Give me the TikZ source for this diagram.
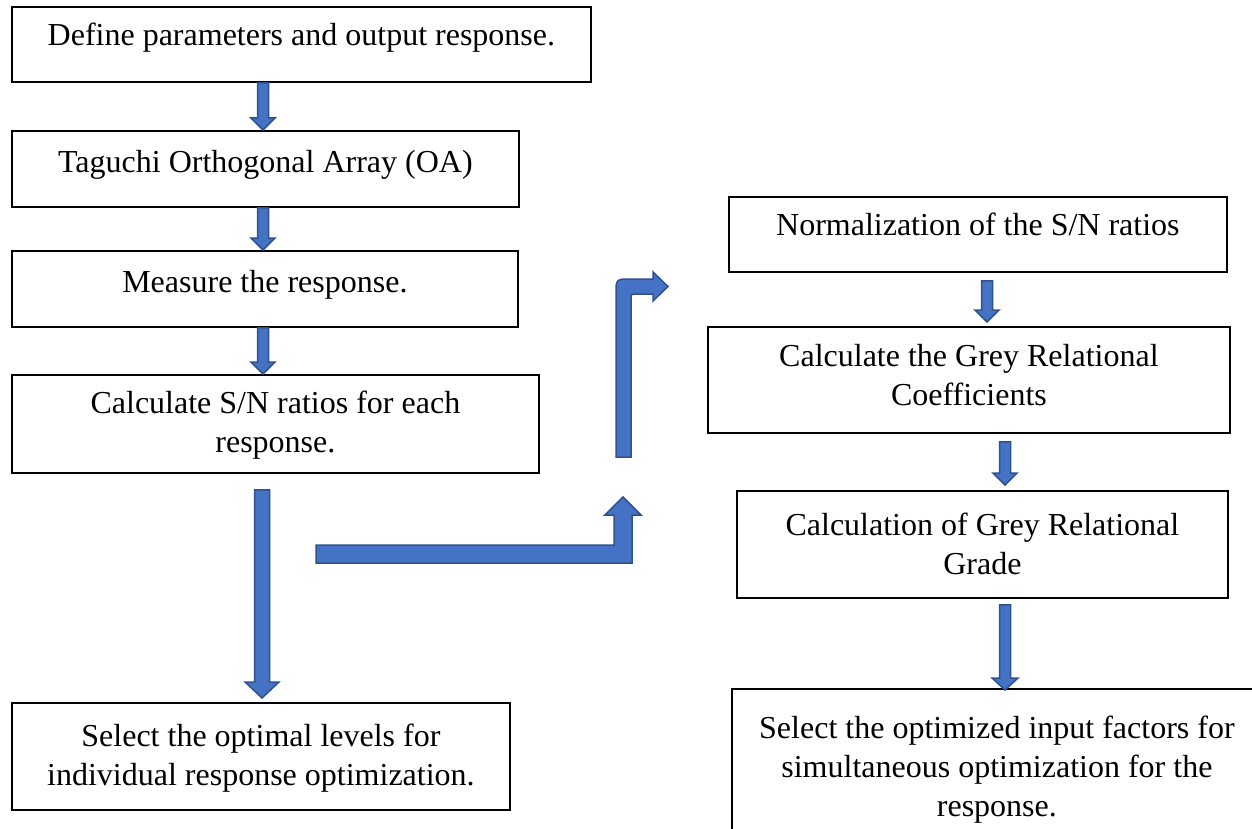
\documentclass[tikz,border=0pt]{standalone}
\usepackage{fontspec}
\setmainfont{Liberation Serif}
\usetikzlibrary{calc}
\definecolor{afill}{HTML}{4472C4}
\definecolor{aline}{HTML}{2F528F}
\newcommand\vblock[6]{%
\draw[barrow] let \p1=(#2), \p2=(#3) in
 ({(#1-#4)*1pt},\y1) -- ({(#1+#4)*1pt},\y1) -- ({(#1+#4)*1pt},\y2+#6pt) -- ({(#1+#5)*1pt},\y2+#6pt) -- ({#1*1pt},\y2) -- ({(#1-#5)*1pt},\y2+#6pt) -- ({(#1-#4)*1pt},\y2+#6pt) -- cycle;}
\begin{document}
\begin{tikzpicture}[x=1pt,y=-1pt,
 box/.style={draw=black,line width=1.8pt,anchor=north west,inner sep=0pt},
 txt/.style={anchor=north,inner sep=0pt,align=center,font=\fontsize{32}{39}\selectfont},
 barrow/.style={fill=afill,draw=aline,line width=1.5pt,line join=miter}]
\useasboundingbox (0,0) rectangle (1252,829);
\clip (0,0) rectangle (1252,829);
% left column
\node[box,minimum width=579pt,minimum height=75pt] (b1) at (11,6) {};
\node[txt] (t1) at ($(b1.north)+(0,12)$) {\strut Define parameters and output response.};
\node[box,minimum width=507pt,minimum height=76pt] (b2) at (11,130) {};
\node[txt] (t2) at ($(b2.north)+(0,15)$) {\strut Taguchi Orthogonal Array (OA)};
\node[box,minimum width=506pt,minimum height=76pt] (b3) at (11,250) {};
\node[txt] (t3) at ($(b3.north)+(0,15)$) {\strut Measure the response.};
\node[box,minimum width=527pt,minimum height=98pt] (b4) at (11,374) {};
\node[txt] (t4) at ($(b4.north)+(0,12)$) {\strut Calculate S/N ratios for each\\response.};
\node[box,minimum width=498pt,minimum height=107pt] (b5) at (11,702) {};
\node[txt] (t5) at ($(b5.north)+(0,17)$) {\strut Select the optimal levels for\\individual response optimization.};
% right column
\node[box,minimum width=498pt,minimum height=75pt] (b6) at (728,196) {};
\node[txt] (t6) at ($(b6.north)+(0,12)$) {\strut Normalization of the S/N ratios};
\node[box,minimum width=522pt,minimum height=106pt] (b7) at (707,326) {};
\node[txt] (t7) at ($(b7.north)+(0,13)$) {\strut Calculate the Grey Relational\\Coefficients};
\node[box,minimum width=491pt,minimum height=107pt] (b8) at (736,490) {};
\node[txt] (t8) at ($(b8.north)+(0,17.7)$) {\strut Calculation of Grey Relational\\Grade};
\node[box,minimum width=530pt,minimum height=160pt] (b9) at (731,688) {};
\node[txt] (t9) at ($(b9.north)+(0,22.7)$) {\strut Select the optimized input factors for\\simultaneous optimization for the\\response.};
% straight block arrows
\vblock{263}{b1.south}{b2.north}{5.5}{12}{12}
\vblock{263}{b2.south}{b3.north}{5.5}{12}{12}
\vblock{263}{b3.south}{b4.north}{5.5}{12}{12}
\vblock{262}{[yshift=-16pt]b4.south}{[yshift=4pt]b5.north}{7.5}{17}{16}
\vblock{987}{[yshift=-8pt]b6.south}{[yshift=4pt]b7.north}{5.5}{12}{12}
\vblock{1005}{[yshift=-8pt]b7.south}{[yshift=5pt]b8.north}{5.5}{12}{12}
\vblock{1005}{[yshift=-6pt]b8.south}{[yshift=-2pt]b9.north}{5.5}{13}{12}
% bent arrows
\draw[barrow] (316,545) -- (614,545) -- (614,515) -- (605,515) -- (623,497) -- (641,515) -- (632,515) -- (632,563) -- (316,563) -- cycle;
\draw[barrow] (616,457) -- (616,294) .. controls (616,279) .. (631,279) -- (653,279) -- (653,272) -- (668,286.5) -- (653,301) -- (653,294) -- (636,294) .. controls (631,294) .. (631,299) -- (631,457) -- cycle;
\end{tikzpicture}
\end{document}
